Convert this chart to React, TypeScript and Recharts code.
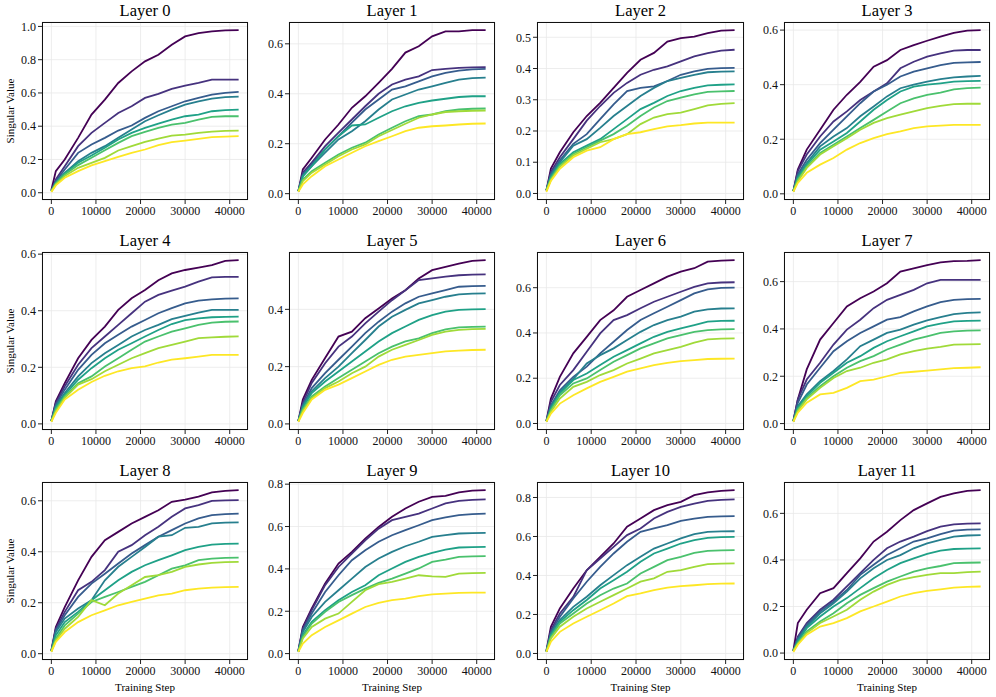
import React from 'react';
import { LineChart, Line, XAxis, YAxis, CartesianGrid } from 'recharts';

const steps = [0, 1000, 3000, 6000, 9000, 12000, 15000, 18000, 21000, 24000, 27000, 30000, 33000, 36000, 39000, 42000];
const colors = ['#440154', '#46327e', '#365c8d', '#277f8e', '#1fa187', '#4ac16d', '#a0da39', '#fde725'];
const xTicks = [0, 10000, 20000, 30000, 40000];
const titles = ['Layer 0', 'Layer 1', 'Layer 2', 'Layer 3', 'Layer 4', 'Layer 5', 'Layer 6', 'Layer 7', 'Layer 8', 'Layer 9', 'Layer 10', 'Layer 11'];

const layer0 = [
  [0.016, 0.13, 0.20, 0.33, 0.47, 0.56, 0.66, 0.73, 0.79, 0.83, 0.89, 0.94, 0.96, 0.97, 0.976, 0.978],
  [0.012, 0.08, 0.16, 0.28, 0.36, 0.42, 0.48, 0.52, 0.57, 0.594, 0.624, 0.644, 0.66, 0.68, 0.68, 0.68],
  [0.012, 0.07, 0.14, 0.24, 0.29, 0.33, 0.374, 0.404, 0.45, 0.49, 0.52, 0.55, 0.57, 0.59, 0.60, 0.606],
  [0.012, 0.06, 0.12, 0.19, 0.24, 0.28, 0.33, 0.38, 0.43, 0.466, 0.50, 0.53, 0.55, 0.566, 0.575, 0.578],
  [0.01, 0.06, 0.116, 0.18, 0.224, 0.27, 0.32, 0.36, 0.39, 0.416, 0.44, 0.46, 0.47, 0.49, 0.497, 0.50],
  [0.01, 0.055, 0.11, 0.166, 0.21, 0.256, 0.30, 0.34, 0.366, 0.39, 0.41, 0.42, 0.44, 0.456, 0.46, 0.46],
  [0.008, 0.05, 0.10, 0.15, 0.18, 0.21, 0.254, 0.28, 0.306, 0.326, 0.344, 0.35, 0.36, 0.368, 0.372, 0.374],
  [0.005, 0.044, 0.09, 0.13, 0.164, 0.19, 0.216, 0.24, 0.26, 0.286, 0.304, 0.314, 0.324, 0.334, 0.338, 0.34],
];
const layer1 = [
  [0.01, 0.097, 0.144, 0.217, 0.277, 0.344, 0.39, 0.444, 0.50, 0.565, 0.59, 0.63, 0.65, 0.65, 0.655, 0.655],
  [0.01, 0.084, 0.124, 0.19, 0.244, 0.297, 0.35, 0.40, 0.437, 0.457, 0.47, 0.495, 0.50, 0.504, 0.506, 0.507],
  [0.01, 0.077, 0.117, 0.177, 0.23, 0.284, 0.337, 0.377, 0.417, 0.43, 0.45, 0.47, 0.484, 0.493, 0.498, 0.50],
  [0.01, 0.07, 0.11, 0.164, 0.217, 0.25, 0.29, 0.337, 0.377, 0.397, 0.417, 0.43, 0.444, 0.457, 0.463, 0.465],
  [0.01, 0.07, 0.11, 0.177, 0.23, 0.273, 0.277, 0.304, 0.33, 0.35, 0.364, 0.373, 0.38, 0.387, 0.39, 0.39],
  [0.01, 0.057, 0.09, 0.124, 0.157, 0.184, 0.204, 0.237, 0.264, 0.29, 0.31, 0.317, 0.33, 0.337, 0.34, 0.341],
  [0.01, 0.05, 0.084, 0.117, 0.15, 0.177, 0.197, 0.23, 0.255, 0.28, 0.304, 0.317, 0.327, 0.33, 0.332, 0.333],
  [0.007, 0.037, 0.07, 0.11, 0.137, 0.164, 0.19, 0.21, 0.23, 0.25, 0.264, 0.27, 0.273, 0.277, 0.28, 0.281],
];
const layer2 = [
  [0.01, 0.08, 0.132, 0.196, 0.248, 0.29, 0.338, 0.386, 0.428, 0.45, 0.486, 0.497, 0.502, 0.513, 0.521, 0.523],
  [0.01, 0.069, 0.116, 0.174, 0.233, 0.28, 0.322, 0.354, 0.38, 0.396, 0.407, 0.423, 0.439, 0.449, 0.457, 0.46],
  [0.01, 0.063, 0.106, 0.159, 0.19, 0.238, 0.285, 0.328, 0.338, 0.343, 0.36, 0.38, 0.391, 0.399, 0.401, 0.402],
  [0.01, 0.058, 0.10, 0.153, 0.174, 0.21, 0.248, 0.28, 0.312, 0.338, 0.36, 0.37, 0.38, 0.388, 0.39, 0.391],
  [0.01, 0.053, 0.095, 0.132, 0.153, 0.174, 0.206, 0.238, 0.27, 0.29, 0.312, 0.328, 0.338, 0.346, 0.348, 0.349],
  [0.01, 0.048, 0.09, 0.127, 0.148, 0.169, 0.19, 0.217, 0.248, 0.275, 0.296, 0.307, 0.317, 0.325, 0.327, 0.328],
  [0.01, 0.043, 0.085, 0.122, 0.143, 0.164, 0.174, 0.19, 0.222, 0.243, 0.254, 0.259, 0.27, 0.282, 0.287, 0.289],
  [0.005, 0.04, 0.079, 0.116, 0.137, 0.148, 0.174, 0.19, 0.196, 0.206, 0.215, 0.219, 0.224, 0.227, 0.227, 0.227],
];
const layer3 = [
  [0.01, 0.089, 0.162, 0.235, 0.308, 0.363, 0.41, 0.466, 0.49, 0.527, 0.545, 0.561, 0.576, 0.59, 0.598, 0.60],
  [0.01, 0.083, 0.144, 0.21, 0.265, 0.302, 0.344, 0.375, 0.405, 0.46, 0.484, 0.503, 0.515, 0.525, 0.527, 0.527],
  [0.01, 0.071, 0.125, 0.186, 0.235, 0.284, 0.332, 0.375, 0.40, 0.43, 0.448, 0.46, 0.472, 0.48, 0.482, 0.483],
  [0.01, 0.065, 0.113, 0.174, 0.21, 0.241, 0.284, 0.32, 0.357, 0.387, 0.40, 0.411, 0.42, 0.427, 0.43, 0.432],
  [0.01, 0.058, 0.107, 0.162, 0.192, 0.223, 0.265, 0.308, 0.344, 0.375, 0.393, 0.40, 0.405, 0.411, 0.413, 0.414],
  [0.01, 0.053, 0.10, 0.15, 0.18, 0.21, 0.241, 0.271, 0.302, 0.332, 0.35, 0.363, 0.371, 0.383, 0.387, 0.389],
  [0.01, 0.046, 0.095, 0.144, 0.174, 0.204, 0.235, 0.26, 0.277, 0.29, 0.302, 0.314, 0.322, 0.329, 0.33, 0.33],
  [0.007, 0.04, 0.077, 0.107, 0.131, 0.162, 0.186, 0.204, 0.219, 0.229, 0.241, 0.247, 0.25, 0.253, 0.253, 0.253],
];
const layer4 = [
  [0.01, 0.08, 0.144, 0.232, 0.297, 0.344, 0.403, 0.444, 0.473, 0.508, 0.532, 0.544, 0.552, 0.561, 0.576, 0.579],
  [0.01, 0.074, 0.133, 0.209, 0.268, 0.309, 0.35, 0.391, 0.432, 0.456, 0.471, 0.485, 0.503, 0.518, 0.52, 0.52],
  [0.01, 0.068, 0.121, 0.191, 0.244, 0.285, 0.315, 0.344, 0.367, 0.391, 0.409, 0.426, 0.436, 0.44, 0.443, 0.444],
  [0.01, 0.062, 0.109, 0.168, 0.215, 0.25, 0.279, 0.309, 0.332, 0.35, 0.37, 0.382, 0.393, 0.403, 0.403, 0.403],
  [0.01, 0.057, 0.103, 0.156, 0.197, 0.232, 0.262, 0.285, 0.309, 0.332, 0.353, 0.367, 0.373, 0.377, 0.378, 0.379],
  [0.01, 0.051, 0.097, 0.144, 0.168, 0.203, 0.232, 0.262, 0.291, 0.309, 0.326, 0.338, 0.35, 0.358, 0.361, 0.362],
  [0.01, 0.045, 0.092, 0.139, 0.158, 0.186, 0.209, 0.232, 0.25, 0.268, 0.279, 0.291, 0.303, 0.306, 0.308, 0.309],
  [0.007, 0.039, 0.086, 0.121, 0.148, 0.17, 0.186, 0.197, 0.203, 0.217, 0.227, 0.232, 0.238, 0.244, 0.244, 0.244],
];
const layer5 = [
  [0.01, 0.085, 0.154, 0.23, 0.305, 0.322, 0.369, 0.403, 0.438, 0.467, 0.508, 0.537, 0.548, 0.56, 0.569, 0.572],
  [0.01, 0.073, 0.143, 0.212, 0.27, 0.305, 0.351, 0.392, 0.432, 0.467, 0.502, 0.508, 0.514, 0.519, 0.521, 0.522],
  [0.01, 0.067, 0.125, 0.177, 0.224, 0.27, 0.317, 0.357, 0.392, 0.421, 0.444, 0.456, 0.467, 0.479, 0.481, 0.482],
  [0.01, 0.062, 0.114, 0.16, 0.20, 0.247, 0.293, 0.34, 0.374, 0.398, 0.421, 0.432, 0.444, 0.452, 0.455, 0.456],
  [0.01, 0.057, 0.108, 0.148, 0.183, 0.218, 0.253, 0.288, 0.317, 0.34, 0.363, 0.38, 0.392, 0.398, 0.40, 0.401],
  [0.01, 0.051, 0.096, 0.131, 0.16, 0.189, 0.218, 0.247, 0.27, 0.288, 0.299, 0.317, 0.33, 0.337, 0.339, 0.34],
  [0.01, 0.045, 0.09, 0.125, 0.148, 0.177, 0.20, 0.235, 0.259, 0.276, 0.293, 0.311, 0.322, 0.328, 0.331, 0.332],
  [0.007, 0.038, 0.085, 0.119, 0.137, 0.16, 0.183, 0.206, 0.224, 0.235, 0.241, 0.247, 0.253, 0.256, 0.258, 0.259],
];
const layer6 = [
  [0.012, 0.11, 0.206, 0.31, 0.383, 0.457, 0.50, 0.56, 0.59, 0.619, 0.649, 0.671, 0.686, 0.715, 0.72, 0.722],
  [0.01, 0.096, 0.17, 0.236, 0.317, 0.398, 0.457, 0.479, 0.509, 0.538, 0.56, 0.582, 0.604, 0.619, 0.623, 0.624],
  [0.01, 0.08, 0.147, 0.206, 0.251, 0.31, 0.361, 0.413, 0.457, 0.487, 0.516, 0.545, 0.575, 0.593, 0.599, 0.60],
  [0.01, 0.074, 0.14, 0.196, 0.265, 0.302, 0.332, 0.369, 0.405, 0.435, 0.457, 0.472, 0.494, 0.504, 0.508, 0.509],
  [0.01, 0.066, 0.133, 0.192, 0.221, 0.258, 0.295, 0.324, 0.354, 0.383, 0.405, 0.42, 0.435, 0.45, 0.453, 0.454],
  [0.01, 0.059, 0.125, 0.177, 0.199, 0.236, 0.273, 0.302, 0.332, 0.354, 0.376, 0.391, 0.405, 0.413, 0.416, 0.417],
  [0.01, 0.052, 0.11, 0.162, 0.184, 0.214, 0.236, 0.265, 0.287, 0.31, 0.324, 0.339, 0.357, 0.372, 0.375, 0.376],
  [0.007, 0.044, 0.088, 0.125, 0.155, 0.184, 0.206, 0.229, 0.243, 0.258, 0.268, 0.276, 0.28, 0.285, 0.286, 0.287],
];
const layer7 = [
  [0.012, 0.102, 0.229, 0.355, 0.425, 0.495, 0.53, 0.558, 0.593, 0.642, 0.656, 0.67, 0.681, 0.687, 0.688, 0.691],
  [0.01, 0.102, 0.186, 0.257, 0.334, 0.397, 0.439, 0.488, 0.523, 0.544, 0.565, 0.593, 0.607, 0.607, 0.607, 0.607],
  [0.01, 0.088, 0.165, 0.236, 0.306, 0.348, 0.383, 0.411, 0.439, 0.45, 0.474, 0.495, 0.513, 0.523, 0.526, 0.527],
  [0.01, 0.074, 0.123, 0.179, 0.222, 0.271, 0.327, 0.355, 0.383, 0.397, 0.418, 0.436, 0.45, 0.463, 0.468, 0.47],
  [0.01, 0.067, 0.116, 0.172, 0.215, 0.257, 0.285, 0.32, 0.348, 0.369, 0.39, 0.411, 0.422, 0.432, 0.434, 0.435],
  [0.01, 0.06, 0.109, 0.158, 0.20, 0.236, 0.264, 0.285, 0.313, 0.334, 0.355, 0.369, 0.383, 0.39, 0.393, 0.394],
  [0.01, 0.053, 0.102, 0.151, 0.193, 0.222, 0.236, 0.257, 0.271, 0.292, 0.306, 0.317, 0.324, 0.334, 0.335, 0.336],
  [0.007, 0.046, 0.088, 0.123, 0.13, 0.151, 0.179, 0.186, 0.20, 0.214, 0.219, 0.224, 0.229, 0.234, 0.236, 0.238],
];
const layer8 = [
  [0.013, 0.105, 0.183, 0.288, 0.38, 0.445, 0.478, 0.511, 0.537, 0.563, 0.596, 0.605, 0.616, 0.633, 0.639, 0.642],
  [0.01, 0.098, 0.164, 0.249, 0.282, 0.328, 0.40, 0.426, 0.465, 0.498, 0.537, 0.57, 0.583, 0.60, 0.602, 0.603],
  [0.01, 0.092, 0.151, 0.223, 0.275, 0.314, 0.354, 0.393, 0.426, 0.459, 0.485, 0.511, 0.531, 0.544, 0.548, 0.55],
  [0.01, 0.085, 0.138, 0.177, 0.21, 0.288, 0.341, 0.38, 0.419, 0.459, 0.465, 0.494, 0.498, 0.511, 0.514, 0.515],
  [0.01, 0.072, 0.124, 0.164, 0.21, 0.249, 0.288, 0.321, 0.347, 0.367, 0.386, 0.406, 0.419, 0.428, 0.431, 0.432],
  [0.01, 0.059, 0.111, 0.157, 0.203, 0.223, 0.242, 0.262, 0.282, 0.308, 0.334, 0.347, 0.367, 0.373, 0.376, 0.377],
  [0.01, 0.052, 0.098, 0.144, 0.21, 0.19, 0.236, 0.269, 0.301, 0.308, 0.321, 0.341, 0.35, 0.356, 0.359, 0.36],
  [0.007, 0.046, 0.085, 0.124, 0.151, 0.17, 0.19, 0.203, 0.216, 0.229, 0.236, 0.249, 0.255, 0.259, 0.261, 0.262],
];
const layer9 = [
  [0.015, 0.126, 0.213, 0.331, 0.425, 0.48, 0.543, 0.598, 0.646, 0.685, 0.717, 0.74, 0.745, 0.761, 0.769, 0.772],
  [0.012, 0.118, 0.205, 0.323, 0.409, 0.472, 0.535, 0.59, 0.63, 0.646, 0.661, 0.685, 0.709, 0.721, 0.726, 0.728],
  [0.01, 0.11, 0.189, 0.291, 0.37, 0.441, 0.488, 0.528, 0.559, 0.583, 0.606, 0.63, 0.643, 0.654, 0.659, 0.661],
  [0.01, 0.102, 0.173, 0.244, 0.299, 0.354, 0.409, 0.449, 0.48, 0.507, 0.528, 0.551, 0.559, 0.567, 0.569, 0.57],
  [0.01, 0.087, 0.15, 0.205, 0.252, 0.291, 0.323, 0.37, 0.402, 0.433, 0.457, 0.476, 0.491, 0.501, 0.503, 0.504],
  [0.01, 0.079, 0.142, 0.197, 0.244, 0.276, 0.307, 0.334, 0.354, 0.378, 0.402, 0.433, 0.444, 0.457, 0.459, 0.46],
  [0.01, 0.071, 0.126, 0.165, 0.189, 0.244, 0.299, 0.328, 0.339, 0.354, 0.37, 0.365, 0.362, 0.378, 0.38, 0.381],
  [0.008, 0.047, 0.087, 0.126, 0.157, 0.189, 0.22, 0.239, 0.252, 0.26, 0.271, 0.28, 0.283, 0.287, 0.288, 0.288],
];
const layer10 = [
  [0.015, 0.137, 0.231, 0.333, 0.427, 0.496, 0.564, 0.65, 0.692, 0.735, 0.761, 0.778, 0.812, 0.826, 0.834, 0.838],
  [0.01, 0.12, 0.205, 0.29, 0.427, 0.487, 0.547, 0.607, 0.641, 0.692, 0.726, 0.752, 0.769, 0.783, 0.788, 0.79],
  [0.01, 0.11, 0.188, 0.282, 0.368, 0.444, 0.513, 0.573, 0.624, 0.641, 0.658, 0.68, 0.692, 0.701, 0.703, 0.704],
  [0.01, 0.1, 0.171, 0.239, 0.291, 0.35, 0.402, 0.453, 0.496, 0.538, 0.564, 0.59, 0.612, 0.624, 0.626, 0.627],
  [0.01, 0.094, 0.162, 0.222, 0.274, 0.333, 0.376, 0.419, 0.47, 0.513, 0.538, 0.564, 0.581, 0.593, 0.597, 0.598],
  [0.01, 0.085, 0.154, 0.205, 0.256, 0.299, 0.333, 0.359, 0.41, 0.444, 0.479, 0.496, 0.516, 0.526, 0.529, 0.53],
  [0.01, 0.077, 0.137, 0.188, 0.231, 0.265, 0.299, 0.333, 0.368, 0.385, 0.419, 0.427, 0.444, 0.458, 0.461, 0.462],
  [0.008, 0.06, 0.111, 0.154, 0.188, 0.222, 0.256, 0.294, 0.308, 0.325, 0.338, 0.345, 0.35, 0.356, 0.358, 0.359],
];
const layer11 = [
  [0.01, 0.129, 0.186, 0.257, 0.279, 0.343, 0.407, 0.479, 0.521, 0.571, 0.614, 0.643, 0.671, 0.686, 0.697, 0.70],
  [0.01, 0.071, 0.129, 0.186, 0.229, 0.286, 0.343, 0.40, 0.45, 0.479, 0.50, 0.524, 0.543, 0.553, 0.556, 0.557],
  [0.01, 0.064, 0.121, 0.179, 0.221, 0.271, 0.336, 0.379, 0.421, 0.45, 0.479, 0.493, 0.511, 0.526, 0.53, 0.531],
  [0.01, 0.057, 0.114, 0.171, 0.214, 0.264, 0.321, 0.364, 0.40, 0.421, 0.45, 0.471, 0.486, 0.50, 0.505, 0.507],
  [0.01, 0.05, 0.107, 0.157, 0.20, 0.236, 0.279, 0.321, 0.357, 0.386, 0.407, 0.426, 0.44, 0.447, 0.449, 0.45],
  [0.01, 0.043, 0.093, 0.136, 0.171, 0.214, 0.25, 0.279, 0.307, 0.329, 0.35, 0.364, 0.374, 0.386, 0.388, 0.389],
  [0.01, 0.04, 0.086, 0.129, 0.157, 0.186, 0.229, 0.264, 0.293, 0.314, 0.326, 0.336, 0.343, 0.343, 0.348, 0.35],
  [0.005, 0.036, 0.079, 0.114, 0.129, 0.15, 0.179, 0.20, 0.221, 0.243, 0.257, 0.267, 0.274, 0.281, 0.284, 0.286],
];

const yTicks6 = [0, 0.2, 0.4, 0.6];
const yTicksL0 = [0, 0.2, 0.4, 0.6, 0.8, 1.0];
const yTicksL2 = [0, 0.1, 0.2, 0.3, 0.4, 0.5];
const yTicksL5 = [0, 0.2, 0.4];
const yTicks8 = [0, 0.2, 0.4, 0.6, 0.8];

const layers = [layer0, layer1, layer2, layer3, layer4, layer5, layer6, layer7, layer8, layer9, layer10, layer11];
const tickSets = [yTicksL0, yTicks6, yTicksL2, yTicks6, yTicks6, yTicksL5, yTicks6, yTicks6, yTicks6, yTicks8, yTicks8, yTicks6];

const colLefts = [42, 289, 537, 784];
const colWidths = [206, 206, 207, 206];
const rowTops = [22, 252, 482];
const boxH = 178;
const FONT = "'Liberation Serif', 'DejaVu Serif', serif";
const Y_AXIS_W = 40;
const X_AXIS_H = 25;
const TOP_PAD = 10;

function Panel({ index }: { index: number }) {
  const col = index % 4;
  const row = Math.floor(index / 4);
  const left = colLefts[col];
  const top = rowTops[row];
  const w = colWidths[col];
  const values = layers[index];
  const data = steps.map((s, i) => {
    const r: Record<string, number> = { step: s };
    values.forEach((ser, j) => {
      r['s' + j] = ser[i];
    });
    return r;
  });
  const all = values.flat();
  const mn = Math.min(...all);
  const mx = Math.max(...all);
  const pad = (mx - mn) * 0.05;
  const tickStyle = { fontFamily: FONT, fontSize: 12, fill: '#111' };
  return (
    <>
      <div
        style={{
          position: 'absolute',
          left: left,
          width: w,
          top: top - 21,
          height: 20,
          textAlign: 'center',
          fontFamily: FONT,
          fontSize: 16.5,
          lineHeight: '20px',
          color: '#000',
        }}
      >
        {titles[index]}
      </div>
      <div style={{ position: 'absolute', left: left - Y_AXIS_W, top: top - TOP_PAD }}>
        <LineChart
          width={w + Y_AXIS_W + 5}
          height={boxH + X_AXIS_H + TOP_PAD}
          data={data}
          margin={{ top: TOP_PAD, right: 5, bottom: 0, left: 0 }}
          style={{ fontFamily: FONT }}
        >
          <CartesianGrid stroke="#e8e8e8" strokeWidth={0.8} />
          <XAxis
            dataKey="step"
            type="number"
            domain={[-2100, 44100]}
            ticks={xTicks}
            height={X_AXIS_H}
            axisLine={false}
            tickSize={4}
            tickMargin={2}
            tickLine={{ stroke: '#222', strokeWidth: 1 }}
            tick={tickStyle}
            interval={0}
          />
          <YAxis
            type="number"
            domain={[mn - pad, mx + pad]}
            ticks={tickSets[index]}
            width={Y_AXIS_W}
            axisLine={false}
            tickSize={4}
            tickMargin={2}
            tickLine={{ stroke: '#222', strokeWidth: 1 }}
            tick={tickStyle}
            tickFormatter={(v: number) => v.toFixed(1)}
            interval={0}
          />
          {values.map((_, j) => (
            <Line
              key={j}
              type="linear"
              dataKey={'s' + j}
              stroke={colors[j]}
              strokeWidth={1.8}
              dot={false}
              isAnimationActive={false}
            />
          ))}
        </LineChart>
      </div>
      <div
        style={{
          position: 'absolute',
          left: left,
          top: top,
          width: w,
          height: boxH,
          border: '1.3px solid #111',
          boxSizing: 'border-box',
          pointerEvents: 'none',
        }}
      />
      {col === 0 && (
        <div
          style={{
            position: 'absolute',
            left: 10 - 50,
            top: top + boxH / 2 - 8,
            width: 100,
            height: 16,
            lineHeight: '16px',
            textAlign: 'center',
            transform: 'rotate(-90deg)',
            fontFamily: FONT,
            fontSize: 11,
            color: '#000',
          }}
        >
          Singular Value
        </div>
      )}
      {row === 2 && (
        <div
          style={{
            position: 'absolute',
            left: left,
            width: w,
            top: 679,
            height: 16,
            lineHeight: '16px',
            textAlign: 'center',
            fontFamily: FONT,
            fontSize: 11,
            color: '#000',
          }}
        >
          Training Step
        </div>
      )}
    </>
  );
}

export default function App() {
  return (
    <div
      style={{
        position: 'absolute',
        left: 0,
        top: 0,
        width: 996,
        height: 697,
        background: '#fff',
        overflow: 'hidden',
      }}
    >
      {layers.map((_, i) => (
        <Panel key={i} index={i} />
      ))}
    </div>
  );
}
